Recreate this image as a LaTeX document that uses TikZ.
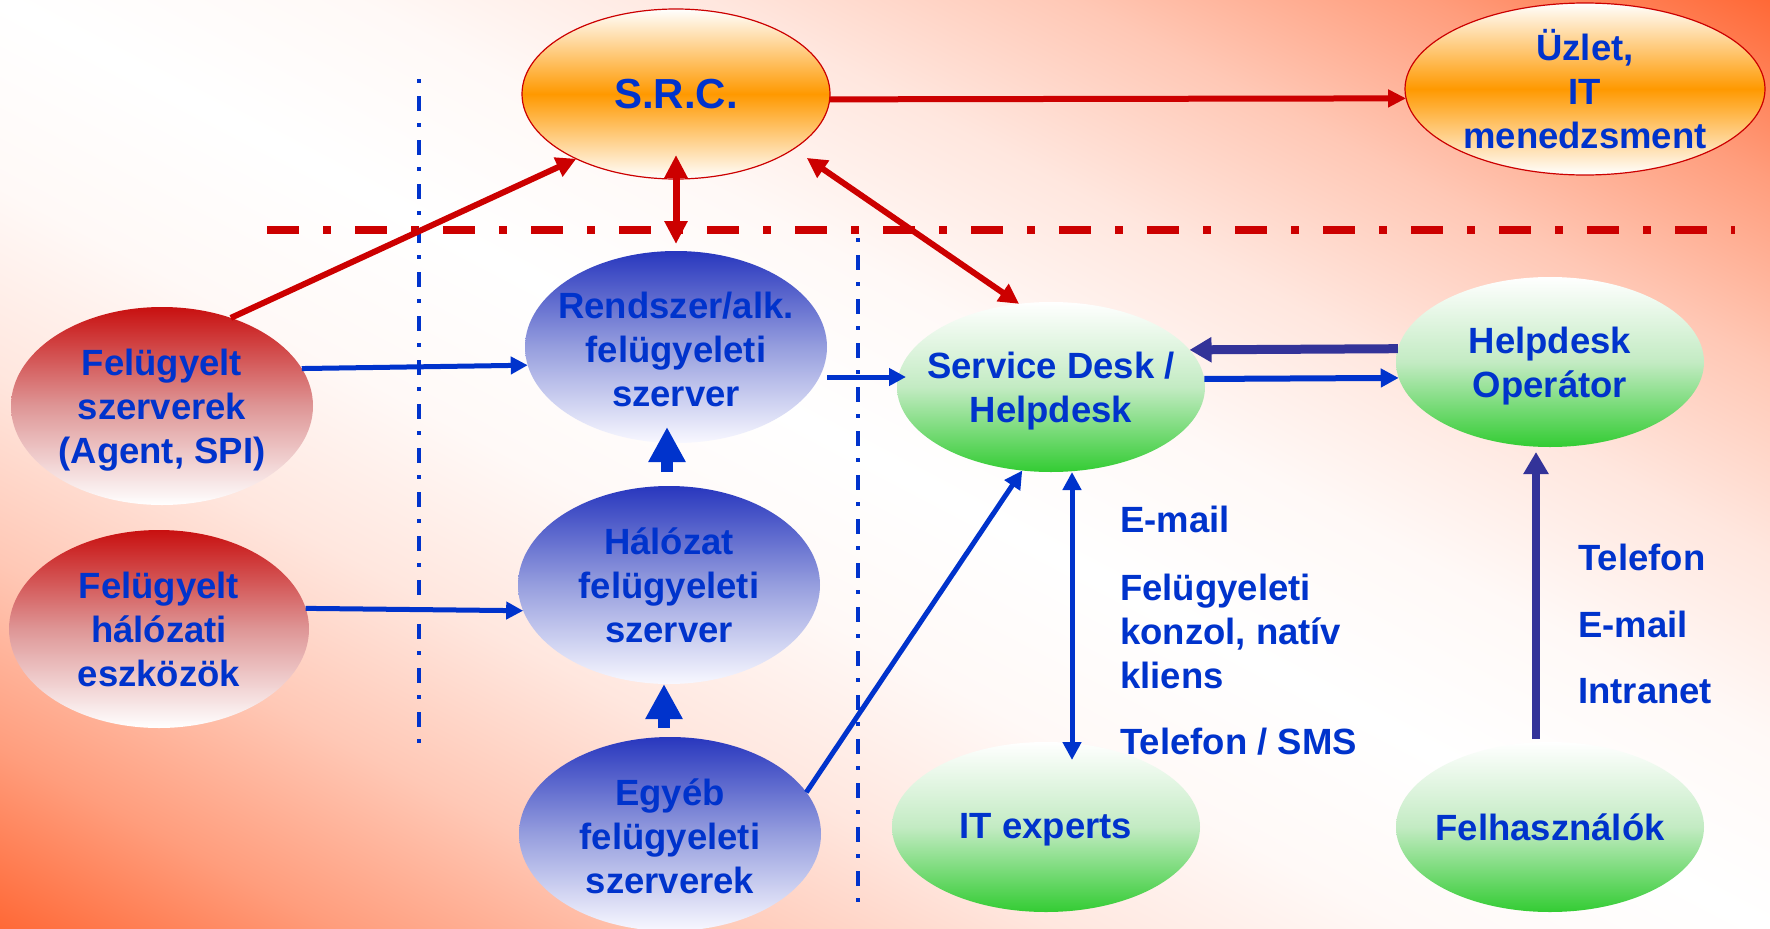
\documentclass[tikz,border=0pt]{standalone}
\usepackage{fontspec}
\setmainfont{Liberation Sans}
\usetikzlibrary{shapes.geometric,arrows.meta,calc}
\definecolor{orng}{RGB}{255,102,51}
\definecolor{txtblue}{RGB}{0,51,204}
\definecolor{indigo}{RGB}{51,51,153}
\definecolor{redln}{RGB}{204,0,0}
\definecolor{redtop}{RGB}{200,16,16}
\definecolor{redmid}{RGB}{222,150,150}
\definecolor{bltop}{RGB}{40,55,190}
\definecolor{blmid}{RGB}{150,158,222}
\definecolor{blbot}{RGB}{248,248,255}
\definecolor{grbot}{RGB}{51,204,51}
\definecolor{grmid}{RGB}{195,235,195}
\definecolor{ormid}{RGB}{255,153,0}
\pgfdeclareverticalshading{bgshade}{100bp}{color(0bp)=(orng); color(25bp)=(orng); color(30bp)=(orng!64!white); color(35bp)=(orng!36!white); color(40bp)=(orng!16!white); color(45bp)=(orng!4!white); color(50bp)=(white); color(55bp)=(orng!4!white); color(60bp)=(orng!16!white); color(65bp)=(orng!36!white); color(70bp)=(orng!64!white); color(75bp)=(orng); color(100bp)=(orng)}
\tikzset{
  ell/.style={ellipse, inner sep=0pt, outer sep=0pt},
  orell/.style={ell, draw=redln, line width=1.2pt, top color=white, bottom color=white, middle color=ormid},
  redell/.style={ell, top color=redtop, bottom color=white, middle color=redmid},
  blell/.style={ell, top color=bltop, bottom color=blbot, middle color=blmid},
  grell/.style={ell, top color=white, bottom color=grbot, middle color=grmid, minimum width=308pt, minimum height=170pt},
  lbl/.style={text=txtblue, font=\fontsize{36.5}{44}\selectfont\bfseries, align=center, inner sep=0pt},
  sidelbl/.style={lbl, align=left, anchor=west},
  redarr/.style={draw=redln, line width=6pt},
  bluarr/.style={draw=txtblue, line width=5pt},
  blockarr/.style={draw=txtblue, line width=12pt, -{Triangle[length=35pt,width=35pt]}},
  rdash/.style={draw=redln, line width=8pt, dash pattern=on 32pt off 24pt on 8pt off 24pt},
  bdash/.style={draw=txtblue, line width=4pt, dash pattern=on 4pt off 13pt on 15pt off 12pt},
}
\begin{document}
\begin{tikzpicture}[x=1pt,y=-1pt]
\useasboundingbox (0,0) rectangle (1770,929);
% background
\begin{scope}
  \clip (0,0) rectangle (1770,929);
  \begin{scope}[transform canvas={rotate around={-27.7:(885,464.5)}}]
    \shade[shading=bgshade] (-415,-365.5) rectangle (2185,1294.5);
  \end{scope}
\end{scope}
% separator lines
\coordinate (rdl) at (267,230);
\coordinate (rdr) at (1735,230);
\coordinate (b1t) at (419,79);
\coordinate (b1b) at (419,745);
\coordinate (b2t) at (858,238);
\coordinate (b2b) at (858,912);
\draw[rdash] (rdl) -- (rdr);
\draw[bdash] (b1t) -- (b1b);
\draw[bdash] (b2t) -- (b2b);
% nodes
\node[orell, minimum width=308pt, minimum height=170pt] (src) at (676,94) {};
\node[lbl, font=\fontsize{42}{50}\selectfont\bfseries] (src-t) at (src) {S.R.C.};
\node[orell, minimum width=360pt, minimum height=172pt] (uz) at (1585,89) {};
\node[lbl] (uz-t) at (uz) {Üzlet,\\IT\\menedzsment};
\node[redell, minimum width=302pt, minimum height=198pt] (fs) at (162,406) {};
\node[lbl, yshift=-4pt] (fs-t) at (fs) {Felügyelt\\szerverek\\(Agent, SPI)};
\node[redell, minimum width=300pt, minimum height=198pt] (fh) at (159,629) {};
\node[lbl] (fh-t) at (fh) {Felügyelt\\hálózati\\eszközök};
\node[blell, minimum width=302pt, minimum height=192pt] (rs) at (676,347) {};
\node[lbl, yshift=-2pt] (rs-t) at (rs) {Rendszer/alk.\\felügyeleti\\szerver};
\node[blell, minimum width=302pt, minimum height=198pt] (hn) at (669,585) {};
\node[lbl] (hn-t) at (hn) {Hálózat\\felügyeleti\\szerver};
\node[blell, minimum width=302pt, minimum height=194pt] (eg) at (670,834) {};
\node[lbl, yshift=-2pt] (eg-t) at (eg) {Egyéb\\felügyeleti\\szerverek};
\node[grell] (sd) at (1051,387) {};
\node[lbl, yshift=-4pt] (sd-t) at (sd) {Service Desk /\\Helpdesk};
\node[grell] (ho) at (1550,362) {};
\node[lbl, yshift=-4pt] (ho-t) at (ho) {Helpdesk\\Operátor};
\node[grell] (ite) at (1046,827) {};
\node[lbl, yshift=-3pt] (ite-t) at (ite) {IT experts};
\node[grell] (fel) at (1550,827) {};
\node[lbl] (fel-t) at (fel) {Felhasználók};
% side labels
\node[sidelbl] (l1) at (1120,519) {E-mail};
\node[sidelbl] (l2) at (1120,631) {Felügyeleti\\konzol, natív\\kliens};
\node[sidelbl] (l3) at (1120,742) {Telefon / SMS};
\node[sidelbl] (r1) at (1578,557) {Telefon};
\node[sidelbl] (r2) at (1578,624) {E-mail};
\node[sidelbl] (r3) at (1578,691) {Intranet};
% red arrows
\draw[redarr, -{Triangle[length=18pt,width=17pt]}] (src.-2) -- (uz.183);
\draw[redarr, -{Triangle[length=20pt,width=20pt]}] (fs.52) -- (src.213);
\draw[redarr, line width=7pt, {Triangle[length=23pt,width=22pt]}-{Triangle[length=23pt,width=22pt]}] ($(src.south)+(0,-24)$) -- ($(rs.north)+(0,-7)$);
\draw[redarr, shorten <=16pt, {Triangle[length=20pt,width=20pt]}-{Triangle[length=20pt,width=20pt]}] (src.-25) -- (sd.111);
% blue arrows
\draw[bluarr, -{Triangle[length=17pt,width=17pt]}] (fs.15) -- (rs.187);
\draw[bluarr, -{Triangle[length=17pt,width=17pt]}] (fh.8) -- (hn.190);
\draw[bluarr, -{Triangle[length=17pt,width=17pt]}] ($(rs.east)+(0,30)$) -- ($(rs.east -| sd.west)+(9,30)$);
\draw[bluarr, -{Triangle[length=18pt,width=18pt]}] (eg.17) -- (sd.251);
\draw[bluarr, {Triangle[length=18pt,width=18pt]}-{Triangle[length=18pt,width=18pt]}] ($(sd.south)+(21,0)$) -- ($(ite.north)+(26,18)$);
\draw[bluarr, line width=6pt, -{Triangle[length=18pt,width=18pt]}] (sd.3) -- (ho.186);
\draw[draw=indigo, line width=9pt, -{Triangle[length=22pt,width=24pt]}] (ho.175) -- (sd.15);
\draw[draw=indigo, line width=8pt, -{Triangle[length=22pt,width=24pt]}] ($(fel.north)+(-14,-3)$) -- ($(ho.south)+(-14,5)$);
% block arrows
\draw[blockarr] ($(hn.north)+(-2,-14)$) -- ($(rs.south)+(-9,-16)$);
\draw[blockarr] ($(eg.north)+(-6,-9)$) -- ($(hn.south)+(-5,0)$);
\end{tikzpicture}
\end{document}
